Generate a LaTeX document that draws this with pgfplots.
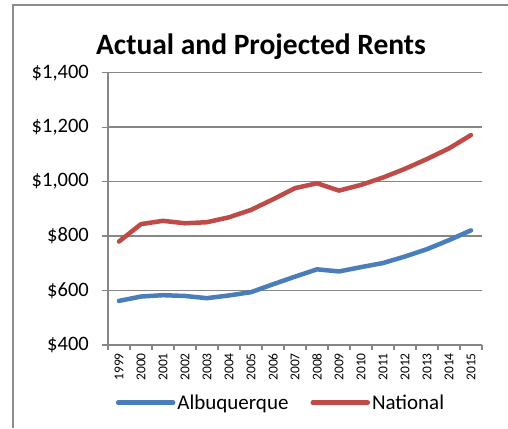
\documentclass[border=0pt]{standalone}
\usepackage{fontspec}
\setmainfont[Numbers={Monospaced,Lining}]{Carlito}
\usepackage{pgfplots}
\pgfplotsset{compat=1.18}
\definecolor{RentBlue}{RGB}{74,126,187}
\definecolor{RentRed}{RGB}{190,75,72}
\definecolor{AxisGray}{RGB}{134,134,134}
\definecolor{FrameGray}{RGB}{140,140,140}

\begin{document}
\begin{tikzpicture}
\useasboundingbox (0,0) rectangle (508pt,428pt);
\draw[FrameGray, line width=1.5pt] (13pt,0pt) -- (13pt,423pt) -- (508pt,423pt);

\begin{axis}[
    at={(108pt,83pt)}, anchor=south west,
    scale only axis,
    width=374pt, height=272.3pt,
    xmin=-0.5, xmax=16.5, ymin=400, ymax=1400,
    axis lines*=left,
    axis line style={AxisGray, line width=1.5pt, -},
    xtick={0,...,16},
    xticklabels={1999,2000,2001,2002,2003,2004,2005,2006,2007,2008,2009,2010,2011,2012,2013,2014,2015},
    minor xtick={-0.5,0.5,...,16.5},
    major x tick style={draw=none},
    minor x tick style={AxisGray, line width=1.2pt},
    ytick={400,600,...,1400},
    yticklabels={\$400,\$600,\$800,{\$1,000},{\$1,200},{\$1,400}},
    tick align=outside,
    major tick length=6pt, minor tick length=5pt,
    y tick style={AxisGray, line width=1.2pt},
    ymajorgrids,
    grid style={AxisGray, line width=1.5pt},
    xticklabel shift=2pt,
    xticklabel style={rotate=90, anchor=east, font=\fontsize{13.5}{13.5}\selectfont, inner sep=0pt},
    yticklabel style={anchor=east, font=\fontsize{20.5}{20.5}\selectfont, inner sep=0pt},
    yticklabel shift=13pt,
    legend columns=2,
    legend style={at={(0.4626,-0.212)}, anchor=center, draw=none, fill=none,
        font=\fontsize{21}{21}\selectfont, inner sep=0pt,
        /tikz/every even column/.append style={column sep=20pt}},
    legend cell align=left,
    legend image code/.code={\draw[#1, line cap=round] (0pt,0pt) -- (55pt,0pt);},
    clip=false,
]
\addplot[RentBlue, line width=4.5pt, line join=round, line cap=round] coordinates {
    (0,562) (1,578) (2,583) (3,580) (4,572) (5,582) (6,594) (7,623) (8,651)
    (9,678) (10,670) (11,686) (12,701) (13,725) (14,752) (15,785) (16,821)
};
\addlegendentry{Albuquerque}
\addplot[RentRed, line width=4.5pt, line join=round, line cap=round] coordinates {
    (0,780) (1,844) (2,856) (3,847) (4,851) (5,869) (6,896) (7,935) (8,976)
    (9,994) (10,967) (11,988) (12,1015) (13,1047) (14,1083) (15,1122) (16,1171)
};
\addlegendentry{National}
\end{axis}

\node[font=\bfseries\fontsize{29.5}{30}\selectfont] at (261pt,381pt) {Actual and Projected Rents};
\end{tikzpicture}
\end{document}
